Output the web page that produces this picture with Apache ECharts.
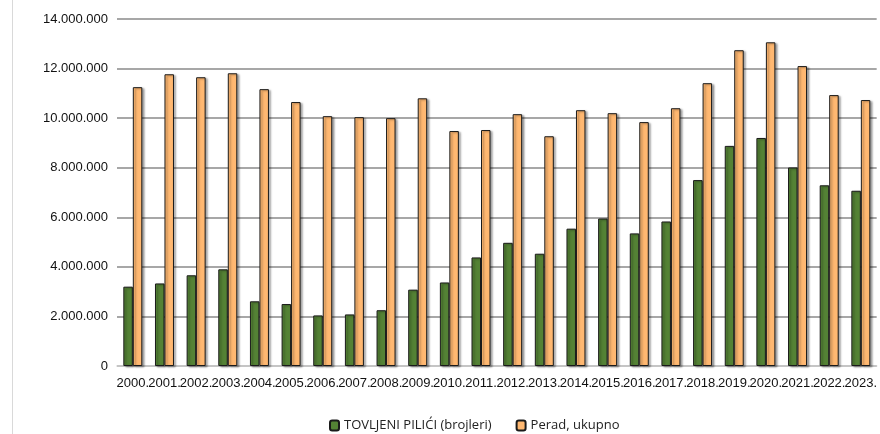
<!DOCTYPE html>
<html>
<head>
<meta charset="utf-8">
<script src="https://cdn.jsdelivr.net/npm/echarts@6/dist/echarts.min.js"></script>
<style>
  html, body { margin: 0; padding: 0; background: #fff; }
  #chart { width: 880px; height: 434px; }
</style>
</head>
<body>
<div id="chart"></div>
<script>
  // years on the x axis
  const years = ['2000', '2001', '2002', '2003', '2004', '2005', '2006', '2007', '2008', '2009', '2010', '2011',
    '2012', '2013', '2014', '2015', '2016', '2017', '2018', '2019', '2020', '2021', '2022', '2023'];

  // TOVLJENI PILIĆI (brojleri)
  const broilers = [3200000, 3330000, 3660000, 3900000, 2610000, 2500000, 2040000, 2080000, 2250000, 3080000,
    3370000, 4380000, 4970000, 4530000, 5540000, 5950000, 5350000, 5830000, 7500000, 8880000, 9200000,
    8010000, 7290000, 7070000];

  // Perad, ukupno
  const poultry = [11250000, 11770000, 11650000, 11810000, 11170000, 10650000, 10080000, 10040000, 10000000,
    10800000, 9480000, 9520000, 10160000, 9270000, 10320000, 10200000, 9840000, 10400000, 11410000, 12740000,
    13060000, 12100000, 10930000, 10730000];

  const yTicks = [0, 2000000, 4000000, 6000000, 8000000, 10000000, 12000000, 14000000];

  const fmt = v => String(v).replace(/\B(?=(\d{3})+(?!\d))/g, '.');
  const arial = '"Liberation Sans", Arial, sans-serif';

  const barStyle = color => ({
    color: color,
    borderColor: '#1a1a1a',
    borderWidth: 1,
    shadowColor: 'rgba(0,0,0,0.35)',
    shadowBlur: 2,
    shadowOffsetX: 2,
    shadowOffsetY: 1
  });

  const chart = echarts.init(document.getElementById('chart'));
  chart.setOption({
    animation: false,
    graphic: [{
      type: 'line',
      shape: { x1: 12.5, y1: 0, x2: 12.5, y2: 434 },
      style: { stroke: '#d9d9d9', lineWidth: 1 }
    }],
    grid: { left: 117, right: -2, top: 19, bottom: 68 },
    legend: {
      left: 324,
      top: 414,
      itemWidth: 9,
      itemHeight: 10,
      itemGap: 24,
      textStyle: { fontFamily: '"Open Sans", sans-serif', fontSize: 13, color: '#222' },
      data: ['TOVLJENI PILIĆI (brojleri)', 'Perad, ukupno']
    },
    xAxis: {
      type: 'category',
      data: years,
      axisTick: { show: false },
      axisLine: { lineStyle: { color: '#d0d0d0', width: 1.5 } },
      axisLabel: {
        interval: 0,
        margin: 11,
        color: '#111',
        fontSize: 13,
        fontFamily: arial,
        formatter: v => v + '.'
      }
    },
    yAxis: {
      type: 'value',
      min: yTicks[0],
      max: yTicks[yTicks.length - 1],
      interval: 2000000,
      axisLine: { show: false },
      axisTick: { show: false },
      splitLine: { lineStyle: { color: '#8a8a8a', width: 1.5 } },
      axisLabel: { color: '#111', fontSize: 13, fontFamily: arial, margin: 9, formatter: fmt }
    },
    series: [
      {
        name: 'TOVLJENI PILIĆI (brojleri)',
        type: 'bar',
        data: broilers,
        barGap: '0%',
        barCategoryGap: '40%',
        itemStyle: barStyle('#548235')
      },
      {
        name: 'Perad, ukupno',
        type: 'bar',
        data: poultry,
        barGap: '0%',
        barCategoryGap: '40%',
        itemStyle: barStyle('#ffb871')
      }
    ]
  });
</script>
</body>
</html>
